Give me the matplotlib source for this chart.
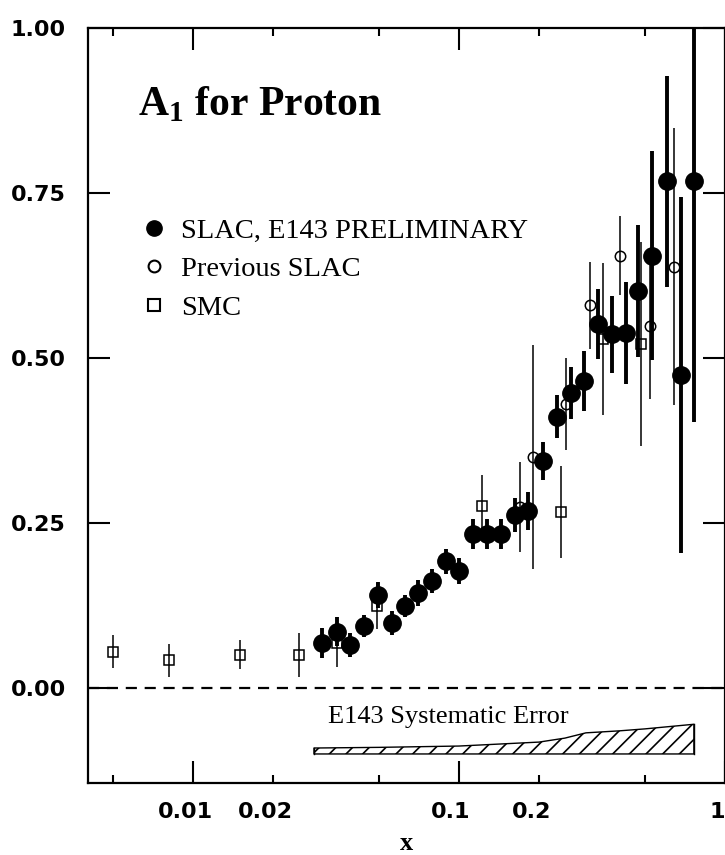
import matplotlib
matplotlib.use("Agg")
import matplotlib.pyplot as plt
import matplotlib.transforms as mtransforms
from matplotlib.lines import Line2D

# SLAC E143 preliminary
e143_x = [0.0306, 0.0348, 0.0389, 0.0440, 0.0495, 0.0560, 0.0627, 0.0702, 0.0793, 0.0893,
          0.100, 0.113, 0.127, 0.144, 0.163, 0.182, 0.207, 0.233, 0.264, 0.295,
          0.333, 0.376, 0.425, 0.471, 0.532, 0.605, 0.684, 0.764]
e143_a = [0.068, 0.085, 0.065, 0.094, 0.141, 0.098, 0.124, 0.144, 0.162, 0.192,
          0.177, 0.233, 0.233, 0.233, 0.262, 0.268, 0.344, 0.411, 0.447, 0.465,
          0.552, 0.536, 0.538, 0.602, 0.655, 0.768, 0.474, 0.768]
e143_err = [0.023, 0.022, 0.018, 0.017, 0.020, 0.018, 0.017, 0.020, 0.018, 0.019,
            0.020, 0.023, 0.023, 0.023, 0.026, 0.029, 0.029, 0.033, 0.040, 0.045,
            0.053, 0.058, 0.077, 0.100, 0.158, 0.160, 0.270, 0.365]

# previous SLAC
slac_x = [0.170, 0.190, 0.252, 0.310, 0.403, 0.523, 0.643]
slac_a = [0.274, 0.350, 0.430, 0.580, 0.655, 0.548, 0.638]
slac_err = [0.068, 0.170, 0.070, 0.066, 0.060, 0.110, 0.210]

# SMC
smc_x = [0.0050, 0.0081, 0.0150, 0.0251, 0.0348, 0.0492, 0.122, 0.241, 0.348, 0.483]
smc_a = [0.055, 0.042, 0.050, 0.050, 0.068, 0.124, 0.276, 0.267, 0.529, 0.521]
smc_err = [0.025, 0.025, 0.022, 0.033, 0.036, 0.035, 0.047, 0.070, 0.115, 0.155]

# E143 systematic error band
sys_x = [0.0285, 0.05, 0.1, 0.2, 0.25, 0.3, 0.4, 0.5, 0.764]
sys_err = [0.009, 0.010, 0.012, 0.018, 0.024, 0.032, 0.035, 0.038, 0.045]
sys_base = -0.100

xtick_long = [0.01, 0.1, 1.0]
xtick_short = [0.005, 0.02, 0.05, 0.2, 0.5]
xtick_labels = {0.01: "0.01", 0.02: "0.02", 0.1: "0.1", 0.2: "0.2", 1.0: "1"}
yticks = [0.0, 0.25, 0.50, 0.75, 1.00]

plt.rcParams["mathtext.fontset"] = "custom"
plt.rcParams["mathtext.rm"] = "Liberation Serif:bold"
plt.rcParams["mathtext.bf"] = "Liberation Serif:bold"
plt.rcParams["hatch.linewidth"] = 1.2

fig = plt.figure(figsize=(7.25, 8.55), dpi=100)
ax = fig.add_axes([88 / 725, 72 / 855, 637 / 725, 755 / 855])

ax.set_xscale("log")
ax.set_xlim(0.00403, 1.0)
ax.set_ylim(-0.144, 1.0)

ax.axhline(0.0, color="black", lw=1.6, ls=(0, (5, 3.5)), zorder=1)

ax.errorbar(smc_x, smc_a, yerr=smc_err, fmt="s", ms=7.5, mfc="none", mec="black",
            mew=1.1, ecolor="black", elinewidth=1.1, capsize=0, zorder=2)
ax.errorbar(slac_x, slac_a, yerr=slac_err, fmt="o", ms=7.5, mfc="none", mec="black",
            mew=1.1, ecolor="black", elinewidth=1.1, capsize=0, zorder=2)
ax.errorbar(e143_x, e143_a, yerr=e143_err, fmt="o", ms=12.5, color="black",
            elinewidth=2.8, capsize=0, zorder=3)

sys_top = [sys_base + e for e in sys_err]
ax.fill_between(sys_x, sys_base, sys_top, facecolor="white", edgecolor="black",
                hatch="//", lw=1.0, zorder=2)
ax.plot([sys_x[0], sys_x[0]], [sys_base, sys_top[0]], color="black", lw=1.0)
ax.plot([sys_x[-1], sys_x[-1]], [sys_base, sys_top[-1]], color="black", lw=1.0)
ax.text(0.377, 0.087, "E143 Systematic Error", transform=ax.transAxes,
        family="Liberation Serif", fontsize=19, va="center", ha="left")

ax.text(0.078, 0.885, r"$\mathbf{A}_{\mathbf{1}}$ for Proton", transform=ax.transAxes,
        family="Liberation Serif", fontweight="bold", fontsize=30, va="baseline")

handles = [
    Line2D([], [], ls="none", marker="o", ms=11, color="black"),
    Line2D([], [], ls="none", marker="o", ms=8.5, mfc="none", mec="black", mew=1.5),
    Line2D([], [], ls="none", marker="s", ms=8.5, mfc="none", mec="black", mew=1.5),
]
labels = ["SLAC, E143 PRELIMINARY", "Previous SLAC", "SMC"]
ax.legend(handles, labels, loc="upper left", bbox_to_anchor=(0.068, 0.764),
          frameon=False, prop={"family": "Liberation Serif", "size": 20.5},
          handlelength=0.8, handletextpad=0.55, labelspacing=0.45, borderaxespad=0)

all_ticks = sorted(xtick_long + xtick_short)
ax.set_xticks(all_ticks)
ax.set_xticklabels([xtick_labels.get(v, "") for v in all_ticks])
ax.minorticks_off()
ax.set_yticks(yticks)
ax.set_yticklabels(["%.2f" % v for v in yticks])

ax.tick_params(axis="both", which="major", direction="in", top=True, right=True,
               width=1.5, colors="black", length=16)
ax.tick_params(axis="y", pad=16)
ax.tick_params(axis="x", pad=14)
for tick in ax.xaxis.get_major_ticks():
    if tick.get_loc() in xtick_short:
        tick.tick1line.set_markersize(6)
        tick.tick2line.set_markersize(6)

for lab in ax.get_xticklabels() + ax.get_yticklabels():
    lab.set_family("DejaVu Sans")
    lab.set_fontweight("bold")
    lab.set_fontsize(16)
shift = mtransforms.ScaledTranslation(-8 / 100, 0, fig.dpi_scale_trans)
for lab in ax.get_xticklabels():
    lab.set_transform(lab.get_transform() + shift)

ax.set_xlabel("x", family="Liberation Serif", fontweight="bold", fontsize=19, labelpad=7)

for sp in ax.spines.values():
    sp.set_linewidth(1.6)

fig.savefig("out.png", dpi=100)
